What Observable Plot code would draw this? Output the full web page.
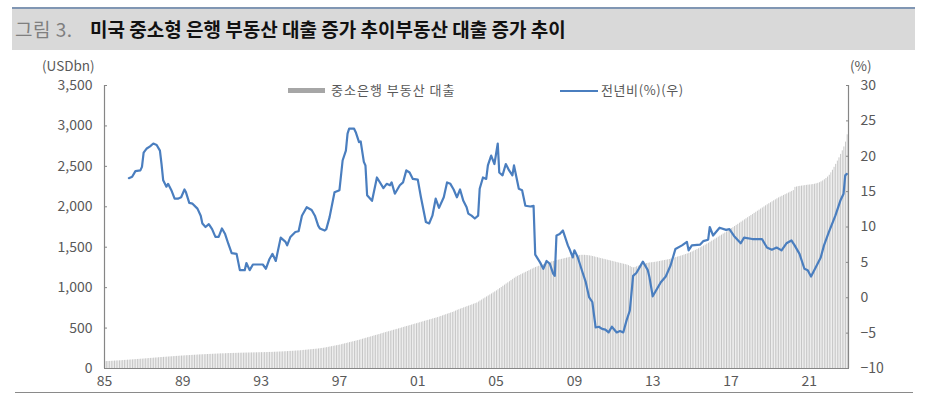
<!DOCTYPE html>
<html><head><meta charset="utf-8">
<script src="https://cdn.jsdelivr.net/npm/d3@7"></script>
<script src="https://cdn.jsdelivr.net/npm/@observablehq/plot@0.6"></script>
<style>
body{margin:0;background:#fff;font-family:"Noto Sans CJK KR","Noto Sans",sans-serif;}
#wrap{position:relative;width:925px;height:396px;overflow:hidden;background:#fff;}
#title{position:absolute;left:12px;top:7px;width:903px;height:43px;background:#d9d9d9;border-top:2px solid #8096b3;box-sizing:border-box;}
#title span{position:absolute;top:8px;font-size:19px;line-height:23px;white-space:nowrap;}
#t1{left:3px;color:#7f7f7f;letter-spacing:0.5px;}
#t2{left:78px;color:#111;font-weight:bold;}
.lab{position:absolute;font-size:13px;color:#595959;white-space:nowrap;line-height:14px;}
#charts{position:absolute;left:0;top:55px;width:925px;height:341px;}
#charts svg{position:absolute;left:0;top:0;}
#bottomline{position:absolute;left:15px;top:392px;width:898px;height:0;border-top:1.5px solid #8a8a8a;}
.sw{position:absolute;}
</style></head>
<body>
<div id="wrap">
  <div id="title"><span id="t1">그림 3.</span><span id="t2">미국 중소형 은행 부동산 대출 증가 추이부동산 대출 증가 추이</span></div>
  <div class="lab" style="left:42px;top:58px;font-size:13.5px;">(USDbn)</div>
  <div class="lab" style="left:850px;top:58px;font-size:13.5px;">(%)</div>
  <div class="sw" style="left:288px;top:88px;width:37px;height:5px;background:#a6a6a6;"></div>
  <div class="lab" style="left:331px;top:83px;letter-spacing:1px;">중소은행 부동산 대출</div>
  <div class="sw" style="left:560px;top:89.5px;width:38px;height:0;border-top:2px solid #4a7ebf;"></div>
  <div class="lab" style="left:601px;top:83px;letter-spacing:0.6px;">전년비(%)(우)</div>
  <div id="charts"></div>
  <div id="bottomline"></div>
</div>
<script>
// ---- data ----
const barStartYear = 1985;
const barValues = [
 85,86,87,88,89,90,92,93,94,95,96,98,
 100,101,103,104,106,107,109,110,112,113,115,116,
 118,120,121,123,125,126,128,130,131,133,135,136,
 138,139,141,142,144,145,147,148,150,151,153,154,
 155,157,158,159,160,162,163,164,165,167,168,169,
 170,171,172,173,174,175,176,177,178,179,180,181,
 182,182,183,184,185,185,186,187,187,188,189,189,
 190,190,191,191,192,192,193,193,194,194,195,195,
 196,196,197,197,198,199,199,200,201,202,203,204,
 205,206,207,208,209,211,212,213,214,216,217,218,
 220,222,224,226,228,230,232,234,236,238,240,242,
 245,248,251,254,258,262,266,270,274,278,282,286,
 290,295,300,305,310,315,320,325,330,335,340,345,
 350,356,362,368,374,380,385,391,397,403,409,414,
 420,426,432,438,444,450,455,461,467,473,479,484,
 490,496,502,508,514,520,525,531,537,543,549,554,
 560,566,572,578,584,590,595,601,607,613,619,624,
 630,637,644,651,658,665,672,679,686,693,700,710,
 720,727,735,742,750,757,765,772,780,787,795,802,
 810,822,835,847,860,872,885,897,910,922,935,947,
 960,974,988,1002,1017,1031,1045,1059,1073,1087,1102,1116,
 1130,1140,1150,1160,1170,1180,1190,1200,1210,1220,1230,1240,
 1250,1257,1264,1271,1278,1285,1292,1299,1306,1313,1320,1325,
 1330,1335,1340,1345,1350,1355,1360,1365,1370,1375,1380,1385,
 1390,1393,1396,1398,1400,1400,1400,1398,1396,1393,1390,1385,
 1380,1375,1370,1365,1360,1355,1350,1345,1340,1335,1330,1325,
 1320,1315,1310,1305,1300,1295,1290,1285,1280,1272,1262,1250,
 1245,1250,1258,1266,1274,1282,1288,1293,1298,1302,1306,1308,
 1310,1313,1316,1320,1324,1328,1332,1336,1340,1344,1348,1354,
 1360,1366,1372,1378,1384,1390,1396,1403,1410,1417,1425,1433,
 1442,1452,1462,1472,1482,1493,1504,1515,1526,1538,1550,1562,
 1575,1587,1600,1612,1625,1638,1650,1663,1676,1689,1702,1716,
 1730,1743,1756,1770,1783,1797,1810,1824,1838,1851,1865,1878,
 1892,1905,1918,1932,1945,1958,1972,1985,1998,2012,2025,2038,
 2050,2062,2074,2086,2098,2110,2120,2130,2140,2150,2160,2170,
 2180,2190,2200,2240,2245,2250,2253,2256,2259,2262,2265,2268,
 2270,2272,2275,2279,2284,2290,2298,2308,2320,2334,2350,2368,
 2390,2420,2452,2488,2525,2565,2605,2648,2692,2740,2800,2890
];
const yoySeries = [
 ["1986-04",16.9],["1986-06",17.1],["1986-08",17.9],["1986-11",18.0],["1986-12",18.5],
 ["1987-01",20.5],["1987-03",21.1],["1987-05",21.4],["1987-07",21.8],["1987-09",21.6],["1987-11",20.8],["1987-12",18.9],
 ["1988-01",16.6],["1988-03",15.7],["1988-04",16.1],["1988-06",15.2],["1988-08",14.0],["1988-10",14.0],["1988-12",14.2],
 ["1989-02",15.3],["1989-03",14.9],["1989-05",13.4],["1989-07",13.3],["1989-10",12.6],["1989-12",11.6],
 ["1990-01",10.5],["1990-03",10.0],["1990-05",10.4],["1990-07",9.7],["1990-09",8.6],["1990-11",8.6],
 ["1991-01",9.8],["1991-03",9.0],["1991-05",7.6],["1991-07",6.3],["1991-10",6.2],["1991-12",3.9],
 ["1992-03",3.9],["1992-04",4.9],["1992-06",3.9],["1992-08",4.7],["1992-11",4.7],
 ["1993-02",4.7],["1993-04",4.1],["1993-06",5.4],["1993-08",6.2],["1993-10",5.2],
 ["1994-01",8.5],["1994-04",7.9],["1994-05",7.4],["1994-07",8.6],["1994-10",9.3],["1994-12",9.4],
 ["1995-02",11.6],["1995-05",12.8],["1995-08",12.4],["1995-10",11.6],["1995-12",10.2],
 ["1996-01",9.8],["1996-04",9.5],["1996-05",9.7],["1996-07",11.4],["1996-10",14.9],
 ["1997-01",15.2],["1997-03",19.4],["1997-05",20.8],["1997-06",23.2],["1997-07",23.9],["1997-10",23.9],["1997-11",23.4],
 ["1998-01",22.0],["1998-02",22.1],["1998-04",19.2],["1998-05",18.7],["1998-06",14.5],["1998-09",13.7],["1998-12",17.0],
 ["1999-04",15.5],["1999-06",16.1],["1999-08",15.9],["1999-09",16.3],["1999-11",14.7],
 ["2000-02",15.9],["2000-04",16.3],["2000-06",18.0],["2000-08",17.7],["2000-10",16.8],
 ["2001-01",16.7],["2001-03",14.2],["2001-06",10.7],["2001-08",10.5],["2001-10",11.6],["2001-12",14.0],
 ["2002-02",12.7],["2002-05",14.2],["2002-07",16.3],["2002-09",16.1],["2002-11",15.3],
 ["2003-01",14.2],["2003-03",15.3],["2003-05",13.7],["2003-07",12.8],["2003-08",11.9],["2003-10",11.6],["2003-12",11.2],
 ["2004-02",11.6],["2004-03",15.4],["2004-05",17.0],["2004-07",16.8],["2004-08",18.7],["2004-10",20.1],["2004-12",18.9],
 ["2005-02",21.8],["2005-03",17.7],["2005-05",17.3],["2005-07",18.9],["2005-09",18.0],["2005-11",17.3],["2005-12",18.7],
 ["2006-03",15.4],["2006-05",15.2],["2006-07",13.0],["2006-10",12.9],["2006-12",13.0],
 ["2007-01",6.1],["2007-04",5.0],["2007-06",4.1],["2007-08",5.2],["2007-10",4.8],["2007-12",3.4],
 ["2008-01",3.1],["2008-02",8.8],["2008-04",9.0],["2008-06",9.5],["2008-09",7.4],["2008-10",6.9],["2008-12",5.7],
 ["2009-01",6.7],["2009-03",5.8],["2009-06",3.6],["2009-08",2.2],["2009-10",0.1],["2009-12",-0.6],
 ["2010-02",-4.2],["2010-04",-4.1],["2010-06",-4.4],["2010-08",-4.5],["2010-10",-4.9],["2010-12",-4.1],
 ["2011-03",-4.9],["2011-05",-4.7],["2011-07",-4.9],["2011-09",-3.2],["2011-11",-1.8],
 ["2012-01",3.1],["2012-03",3.5],["2012-05",4.3],["2012-07",5.1],["2012-10",3.9],["2012-11",2.9],
 ["2013-01",0.2],["2013-03",1.0],["2013-06",2.2],["2013-09",3.0],["2013-12",4.6],
 ["2014-03",6.9],["2014-07",7.4],["2014-10",7.9],["2014-11",6.7],
 ["2015-01",7.4],["2015-06",7.5],["2015-08",8.0],["2015-11",8.2],["2015-12",10.0],
 ["2016-02",8.8],["2016-06",9.9],["2016-10",9.6],["2016-12",9.7],
 ["2017-03",8.7],["2017-07",7.7],["2017-09",8.5],
 ["2018-02",8.3],["2018-08",8.3],["2018-11",7.1],
 ["2019-02",6.8],["2019-05",7.1],["2019-08",6.7],["2019-11",7.7],
 ["2020-02",8.1],["2020-04",7.4],["2020-07",6.2],["2020-10",4.1],["2020-12",3.9],
 ["2021-02",3.0],["2021-05",4.3],["2021-08",5.7],["2021-10",7.4],
 ["2022-01",9.3],["2022-05",11.6],["2022-08",13.7],["2022-10",14.7],["2022-11",17.3],["2022-12",17.5]
];
const leftTicks = [0,500,1000,1500,2000,2500,3000,3500];
const rightTicks = [-10,-5,0,5,10,15,20,25,30];
const xTickYears = [1985,1989,1993,1997,2001,2005,2009,2013,2017,2021];

// ---- build ----
const bars = barValues.map((v,i)=>({date:new Date(Date.UTC(barStartYear + Math.floor(i/12), i%12, 1)), value:v}));
const yoy = yoySeries.map(([m,v])=>{const [y,mo]=m.split("-").map(Number);return {date:new Date(Date.UTC(y,mo-1,1)), value:v};});
const xDomain = [new Date(Date.UTC(1985,0,1)), new Date(Date.UTC(2023,0,1))];
const xTicks = xTickYears.map(y=>new Date(Date.UTC(y,0,1)));
const font = '"Noto Sans CJK KR","Noto Sans",sans-serif';
const common = {width:925,height:341,marginLeft:104,marginRight:77,marginTop:30,marginBottom:28};
const style = {background:"transparent",fontFamily:font,fontSize:"14px",color:"#595959",overflow:"visible"};

const p1 = Plot.plot({
  ...common, style,
  x:{type:"utc",domain:xDomain,label:null},
  y:{domain:[0,3500],label:null},
  marks:[
    Plot.rectY(bars,{x:"date",y:"value",interval:"month",fill:"#c4c4c4",insetLeft:0.35,insetRight:0.35}),
    Plot.ruleX([xDomain[0]],{stroke:"#868686",strokeWidth:1.2}),
    Plot.ruleY([0],{stroke:"#868686",strokeWidth:1.2}),
    Plot.axisY({ticks:leftTicks,label:null,tickSize:-3,tickPadding:15,stroke:"#868686",tickFormat:d3.format(",")}),
    Plot.axisX({ticks:xTicks,label:null,tickSize:0,tickPadding:8,tickFormat:d=>String(d.getUTCFullYear()%100).padStart(2,"0")})
  ]
});
const p2 = Plot.plot({
  ...common, style,
  x:{type:"utc",domain:xDomain,axis:null,label:null},
  y:{domain:[-10,30],label:null},
  marks:[
    Plot.ruleX([xDomain[1]],{stroke:"#868686",strokeWidth:1.2}),
    Plot.line(yoy,{x:"date",y:"value",stroke:"#4a7ebf",strokeWidth:2.2,strokeLinejoin:"round"}),
    Plot.axisY({anchor:"right",ticks:rightTicks,label:null,tickSize:-3,tickPadding:15,stroke:"#868686",tickFormat:d=>d<0?"\u2212"+Math.abs(d):String(d)})
  ]
});
document.getElementById("charts").append(p1,p2);
</script>
</body></html>
